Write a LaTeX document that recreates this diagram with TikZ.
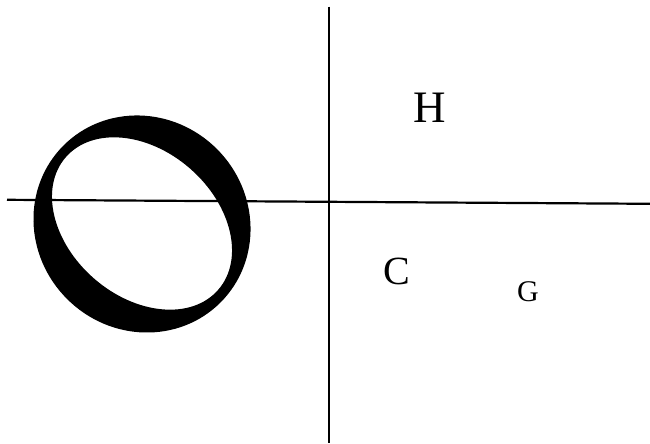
\documentclass[tikz,border=0pt]{standalone}
\usepackage{fontspec}
\setmainfont{Liberation Serif}
\begin{document}
\begin{tikzpicture}[x=1pt,y=1pt,
  axisline/.style={line width=2.2pt, black},
  ring/.style={fill=black, even odd rule},
  lbl/.style={inner sep=0pt, text=black}]
\useasboundingbox (0,0) rectangle (650,444);
% axes
\coordinate (hl) at (7,244.2);
\coordinate (hr) at (650,240.2);
\coordinate (vt) at (329,437.3);
\coordinate (vb) at (329,0.5);
\draw[axisline] (hl) -- (hr);
\draw[axisline] (vt) -- (vb);
% ring
\fill[ring] (142,220) ellipse[x radius=111, y radius=106, rotate=-45]
            (142,220.5) ellipse[x radius=101, y radius=73, rotate=-41];
% labels
\node[lbl, font=\fontsize{45}{54}\selectfont] (H) at (430,336.5) {H};
\node[lbl, font=\fontsize{40}{48}\selectfont] (C) at (397,172.3) {C};
\node[lbl, font=\fontsize{30}{36}\selectfont] (G) at (528,152.3) {G};
\end{tikzpicture}
\end{document}
